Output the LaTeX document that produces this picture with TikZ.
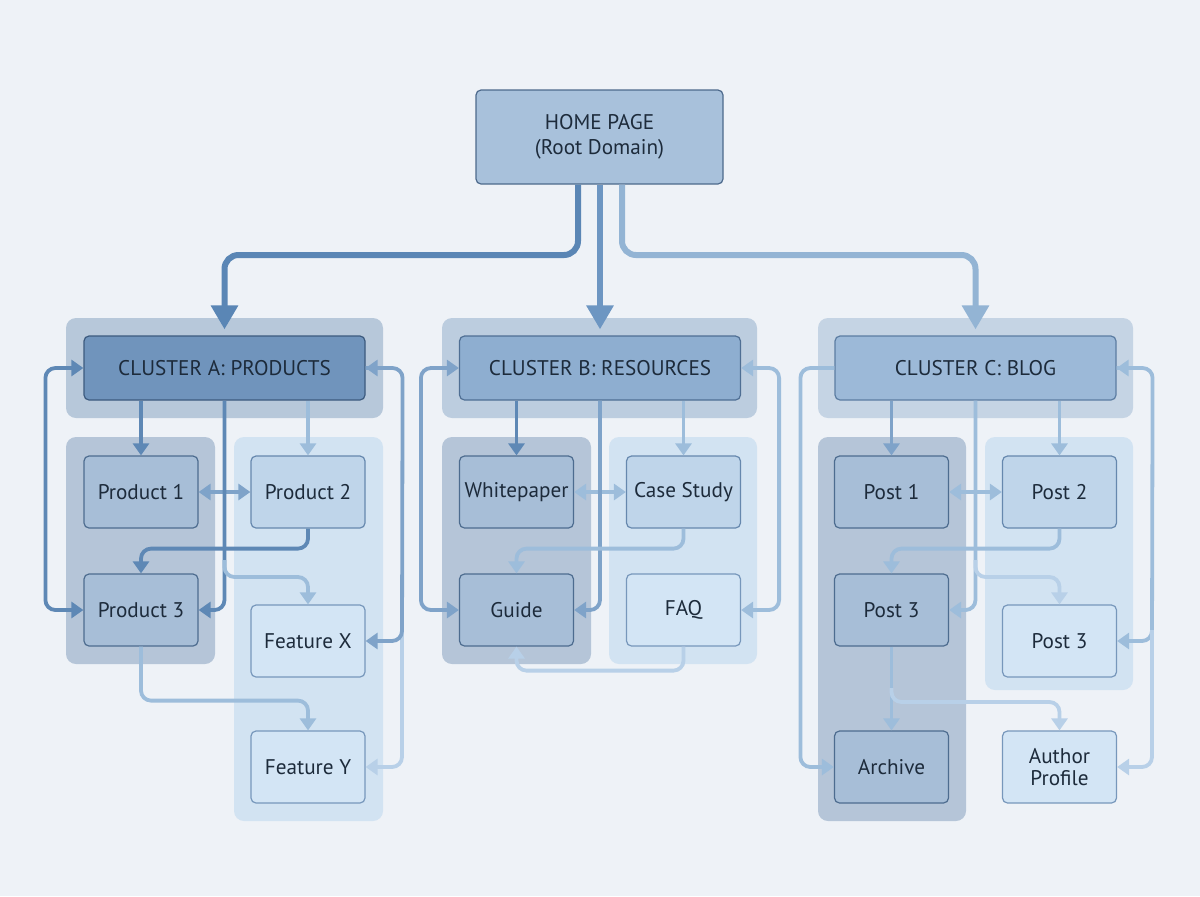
\documentclass[tikz,border=0pt]{standalone}
\usepackage{fontspec}
\setmainfont{PT Sans}
\usetikzlibrary{arrows.meta,backgrounds}
\definecolor{bgc}{HTML}{EEF2F7}
\definecolor{txt}{HTML}{1D2B3B}
\definecolor{homefill}{HTML}{A8C1DB}\definecolor{homedraw}{HTML}{4D6A8C}
\definecolor{hAfill}{HTML}{7094BC}\definecolor{hAdraw}{HTML}{3C5A7E}
\definecolor{hBfill}{HTML}{8EAED0}\definecolor{hBdraw}{HTML}{4F6F94}
\definecolor{hCfill}{HTML}{9CB9D8}\definecolor{hCdraw}{HTML}{5C7DA2}
\definecolor{backA}{HTML}{B7C8DA}\definecolor{backB}{HTML}{BCCDDF}\definecolor{backC}{HTML}{C5D4E4}
\definecolor{grpD}{HTML}{B5C5D8}\definecolor{grpL}{HTML}{D2E3F2}
\definecolor{chDf}{HTML}{A7BED7}\definecolor{chDd}{HTML}{4D6C8F}
\definecolor{chMf}{HTML}{BFD5EA}\definecolor{chMd}{HTML}{6688AE}
\definecolor{chLf}{HTML}{D3E5F5}\definecolor{chLd}{HTML}{7797BB}
\definecolor{cdark}{HTML}{5E88B5}\definecolor{cmid}{HTML}{7FA3C9}
\definecolor{clight}{HTML}{9DBDDB}\definecolor{cpale}{HTML}{B8D0E8}
\definecolor{mL}{HTML}{5A86B5}\definecolor{mM}{HTML}{6D96C2}\definecolor{mR}{HTML}{93B4D4}
\definecolor{glow}{HTML}{BFD8F2}
\newcommand{\fs}{\fontsize{10.6}{12.4}\selectfont}
\tikzset{
  x=0.5pt, y=-0.5pt,
  hdr/.style={draw=#1draw, fill=#1fill, line width=0.6pt, rounded corners=2.5pt,
     minimum width=140.5pt, minimum height=32pt, text=txt, font=\fs},
  child/.style={draw=ch#1d, fill=ch#1f, line width=0.6pt, rounded corners=2.5pt,
     minimum width=57pt, minimum height=36pt, text=txt, font=\fs, align=center, inner sep=1pt},
  conn/.style={draw=#1, line width=1.9pt, rounded corners=5pt,
     -{Triangle[width=8pt,length=6pt]}},
  biconn/.style={draw=#1, line width=1.9pt, rounded corners=5pt,
     {Triangle[width=8pt,length=6pt]}-{Triangle[width=8pt,length=6pt]}},
  plain/.style={draw=#1, line width=1.9pt, rounded corners=5pt},
  mainarr/.style={draw=#1, line width=3pt, rounded corners=7pt, shorten >=3pt,
     -{Triangle[width=13pt,length=12pt]}},
  glowline/.style={draw=glow, line width=8pt, rounded corners=7pt, opacity=0.55, shorten >=14pt},
  backdrop/.style={fill=#1, rounded corners=5pt, draw=none}
}
\begin{document}
\begin{tikzpicture}
\fill[bgc] (0,0) rectangle (1200,896);
\useasboundingbox (0,0) rectangle (1200,896);
% backdrops
\fill[backdrop=backA] (66,318) rectangle (383,418);
\fill[backdrop=backB] (442,318) rectangle (757,418);
\fill[backdrop=backC] (818,318) rectangle (1133,418);
\fill[backdrop=grpD] (66,437) rectangle (215,664);
\fill[backdrop=grpL] (234,437) rectangle (383,821);
\fill[backdrop=grpD] (442,437) rectangle (591,664);
\fill[backdrop=grpL] (609,437) rectangle (757,664);
\fill[backdrop=grpD] (818,437) rectangle (966,821);
\fill[backdrop=grpL] (985,437) rectangle (1133,690);

% nodes
\node[draw=homedraw, fill=homefill, line width=0.6pt, rounded corners=2.5pt,
  minimum width=123.5pt, minimum height=47pt, text=txt, font=\fs, align=center]
  (home) at (599.5,137) {HOME PAGE\\(Root Domain)};
\node[hdr=hA] (hA) at (224.5,368) {CLUSTER A: PRODUCTS};
\node[hdr=hB] (hB) at (600,368) {CLUSTER B: RESOURCES};
\node[hdr=hC] (hC) at (975.5,368) {CLUSTER C: BLOG};

\node[child=D] (p1) at (141,492) {Product 1};
\node[child=M] (p2) at (308,492) {Product 2};
\node[child=D] (p3) at (141,610) {Product 3};
\node[child=L] (fx) at (308,641) {Feature X};
\node[child=L] (fy) at (308,767) {Feature Y};

\node[child=D] (wp) at (516.5,492) {Whitepaper};
\node[child=M] (cs) at (683.5,492) {Case Study};
\node[child=D] (gd) at (516.5,610) {Guide};
\node[child=L] (faq) at (683.5,610) {FAQ};

\node[child=D] (po1) at (891.5,492) {Post 1};
\node[child=M] (po2) at (1059.5,492) {Post 2};
\node[child=D] (po3) at (891.5,610) {Post 3};
\node[child=L] (po3r) at (1059.5,641) {Post 3};
\node[child=D] (arch) at (891.5,767) {Archive};
\node[child=L] (auth) at (1059.5,767) {Author\\[-1pt]Profile};

% main arrows
\begin{scope}[on background layer]
\draw[glowline] (home.south -| 578,0) -- (578,255) -- (224.5,255) -- (hA.north);
\draw[glowline] (home.south -| 600,0) -- (hB.north);
\draw[glowline] (home.south -| 622,0) -- (622,255) -- (975.5,255) -- (hC.north);
\end{scope}
\draw[mainarr=mL] (home.south -| 578,0) -- (578,255) -- (224.5,255) -- (hA.north);
\draw[mainarr=mM] (home.south -| 600,0) -- (hB.north);
\draw[mainarr=mR] (home.south -| 622,0) -- (622,255) -- (975.5,255) -- (hC.north);

% cluster A
\draw[conn=cdark] (hA.south -| p1) -- (p1.north);
\draw[conn=clight] (hA.south -| p2) -- (p2.north);
\draw[biconn=cmid] (p1.east) -- (p2.west);
\draw[conn=cdark] (hA.south) |- (p3.east);
\draw[conn=clight] (hA.south |- 0,560) |- (262,577) -| (fx.north);
\draw[conn=cdark] (p2.south) -- ++(0,20) -| (p3.north);
\draw[biconn=cdark] (hA.west) -- ++(-38,0) |- (p3.west);
\draw[plain=cmid] (hA.east) -- ++(37,0) -- (402,641);
\draw[conn=cpale] (402,630) |- (fy.east);
\draw[{Triangle[width=8pt,length=6pt]}-, draw=cmid, line width=1.9pt] (hA.east) -- ++(10,0);
\draw[conn=cmid] (402,630) -- (402,641) -- (fx.east);
\draw[conn=clight] (p3.south) -- ++(0,54) -| (fy.north);

% cluster B
\draw[conn=cdark] (hB.south -| wp) -- (wp.north);
\draw[conn=clight] (hB.south -| cs) -- (cs.north);
\draw[biconn=clight] (wp.east) -- (cs.west);
\draw[conn=cmid] (hB.south) |- (gd.east);
\draw[conn=clight] (cs.south) -- ++(0,20) -| (gd.north);
\draw[biconn=cmid] (hB.west) -- ++(-38,0) |- (gd.west);
\draw[biconn=clight] (hB.east) -- ++(38,0) |- (faq.east);
\draw[conn=cpale] (faq.south) -- ++(0,24) -| (gd.south);

% cluster C
\draw[conn=cmid] (hC.south -| po1) -- (po1.north);
\draw[conn=clight] (hC.south -| po2) -- (po2.north);
\draw[biconn=clight] (po1.east) -- (po2.west);
\draw[conn=clight] (hC.south) |- (po3.east);
\draw[conn=cpale] (hC.south |- 0,560) |- (1012,577) -| (po3r.north);
\draw[conn=clight] (po2.south) -- ++(0,20) -| (po3.north);
\draw[conn=clight] (hC.west) -- ++(-34,0) |- (arch.west);
\draw[plain=clight] (hC.east) -- ++(36,0) -- (1152,641);
\draw[{Triangle[width=8pt,length=6pt]}-, draw=clight, line width=1.9pt] (hC.east) -- ++(10,0);
\draw[conn=clight] (1152,630) -- (1152,641) -- (po3r.east);
\draw[conn=cpale] (1152,630) |- (auth.east);
\draw[conn=clight] (po3.south) -- (arch.north);
\draw[conn=cpale] (po3.south |- 0,688) |- (1000,702) -| (auth.north);
\end{tikzpicture}
\end{document}
